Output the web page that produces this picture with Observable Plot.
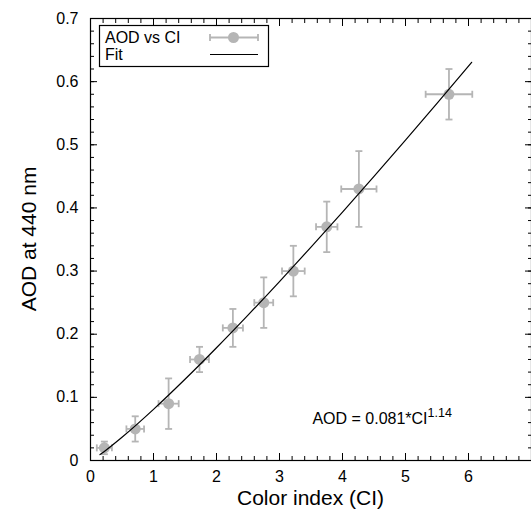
<!DOCTYPE html>
<html><head><meta charset="utf-8">
<script src="https://cdn.jsdelivr.net/npm/d3@7"></script>
<script src="https://cdn.jsdelivr.net/npm/@observablehq/plot@0.6"></script>
<style>body{margin:0;background:#fff} #chart svg{font-family:"Liberation Sans",Arial,Helvetica,sans-serif;overflow:visible}</style>
</head><body><div id="chart"></div>
<script>
// Observations (colour index vs AOD at 440 nm) with error bars
const ci     = [0.22, 0.71, 1.24, 1.73, 2.26, 2.75, 3.22, 3.75, 4.26, 5.69];
const aod    = [0.02, 0.05, 0.09, 0.16, 0.21, 0.25, 0.30, 0.37, 0.43, 0.58];
const ciErr  = [0.12, 0.14, 0.16, 0.15, 0.16, 0.15, 0.18, 0.17, 0.28, 0.37];
const aodErr = [0.01, 0.02, 0.04, 0.02, 0.03, 0.04, 0.04, 0.04, 0.06, 0.04];
// Fit curve
const fitCI  = [0.15, 0.25, 0.5, 1, 1.5, 2, 2.5, 3, 3.5, 4, 4.5, 5, 5.5, 6.05];
const fitAOD = [0.0093, 0.0167, 0.0368, 0.081, 0.1286, 0.1785, 0.2302, 0.2834, 0.3379, 0.3934, 0.4500, 0.5073, 0.5655, 0.6306];
// Axes
const xTicks = [0, 1, 2, 3, 4, 5, 6];
const yTicks = [0, 0.1, 0.2, 0.3, 0.4, 0.5, 0.6, 0.7];
const xDomain = [0, 7];
const yDomain = [0, 0.7];
const xLabel = "Color index (CI)";
const yLabel = "AOD at 440 nm";
const legendLabels = ["AOD vs CI", "Fit"];

const pts = ci.map((c, i) => ({x: c, y: aod[i], ex: ciErr[i], ey: aodErr[i]}));
const fit = fitCI.map((c, i) => ({x: c, y: fitAOD[i]}));

const hCap = {draw(ctx, size){const r = Math.sqrt(size/Math.PI); ctx.moveTo(-r,0); ctx.lineTo(r,0);}};
const vCap = {draw(ctx, size){const r = Math.sqrt(size/Math.PI); ctx.moveTo(0,-r); ctx.lineTo(0,r);}};
const gray = "#b5b5b5";
const minorX = d3.range(0, 7.001, 0.2);
const minorY = d3.range(0, 0.7001, 0.02);

const plot = Plot.plot({
  width: 531, height: 512,
  marginLeft: 90, marginRight: 0, marginTop: 18, marginBottom: 52,
  style: {fontSize: "16px", fontFamily: "Liberation Sans, Arial, sans-serif", color: "#000", background: "#fff"},
  x: {domain: xDomain, label: null},
  y: {domain: yDomain, label: null},
  marks: [
    // minor ticks
    Plot.axisX({ticks: minorX, tickSize: -4, text: null, anchor: "bottom"}),
    Plot.axisX({ticks: minorX, tickSize: -4, text: null, anchor: "top"}),
    Plot.axisY({ticks: minorY, tickSize: -4, text: null, anchor: "left"}),
    Plot.axisY({ticks: minorY, tickSize: -4, text: null, anchor: "right"}),
    // major ticks
    Plot.axisX({ticks: xTicks.concat([7]), tickSize: -7, text: null, anchor: "bottom"}),
    Plot.axisX({ticks: xTicks.concat([7]), tickSize: -7, text: null, anchor: "top"}),
    Plot.axisY({ticks: yTicks, tickSize: -7, text: null, anchor: "left"}),
    Plot.axisY({ticks: yTicks, tickSize: -7, text: null, anchor: "right"}),
    // labels
    Plot.axisX({ticks: xTicks, tickSize: 0, tickPadding: 10, anchor: "bottom", tickFormat: d => String(d), label: null}),
    Plot.axisY({ticks: yTicks, tickSize: 0, tickPadding: 12, anchor: "left", tickFormat: d => String(+d.toFixed(1)), label: null}),
    Plot.frame({stroke: "#000", strokeWidth: 1.2}),
    // error bars
    Plot.link(pts, {x1: d => d.x - d.ex, x2: d => d.x + d.ex, y1: "y", y2: "y", stroke: gray, strokeWidth: 1.8}),
    Plot.link(pts, {x1: "x", x2: "x", y1: d => d.y - d.ey, y2: d => d.y + d.ey, stroke: gray, strokeWidth: 1.8}),
    Plot.dot(pts, {x: "x", y: d => d.y + d.ey, symbol: hCap, r: 3.5, stroke: gray, strokeWidth: 1.8}),
    Plot.dot(pts, {x: "x", y: d => d.y - d.ey, symbol: hCap, r: 3.5, stroke: gray, strokeWidth: 1.8}),
    Plot.dot(pts, {x: d => d.x + d.ex, y: "y", symbol: vCap, r: 3.5, stroke: gray, strokeWidth: 1.8}),
    Plot.dot(pts, {x: d => d.x - d.ex, y: "y", symbol: vCap, r: 3.5, stroke: gray, strokeWidth: 1.8}),
    Plot.dot(pts, {x: "x", y: "y", r: 5.5, fill: gray, stroke: "none"}),
    // fit
    Plot.line(fit, {x: "x", y: "y", stroke: "#000", strokeWidth: 1.2, curve: "monotone-x"})
  ]
});

const svg = d3.select(plot);
// axis titles
svg.append("text").attr("x", 310.5).attr("y", 505).attr("text-anchor", "middle")
  .attr("font-size", 21).attr("fill", "#000").text(xLabel);
svg.append("text").attr("transform", "translate(36,239) rotate(-90)").attr("text-anchor", "middle")
  .attr("font-size", 21).attr("fill", "#000").text(yLabel);

// annotation
const sx = plot.scale("x"), sy = plot.scale("y");
const ann = svg.append("text").attr("x", sx.apply(3.53)).attr("y", sy.apply(0.057))
  .attr("text-anchor", "start").attr("font-size", 16).attr("fill", "#000");
ann.append("tspan").text("AOD = 0.081*CI");
ann.append("tspan").attr("dy", -7).attr("font-size", 12.5).text("1.14");

// legend
const lg = svg.append("g").attr("text-anchor", "start");
lg.append("rect").attr("x", 99.5).attr("y", 25.5).attr("width", 169).attr("height", 41)
  .attr("fill", "#fff").attr("stroke", "#000").attr("stroke-width", 1.2);
lg.append("text").attr("x", 105).attr("y", 43).attr("font-size", 16).attr("fill", "#000").text(legendLabels[0]);
lg.append("text").attr("x", 105).attr("y", 60).attr("font-size", 16).attr("fill", "#000").text(legendLabels[1]);
lg.append("line").attr("x1", 210).attr("x2", 258).attr("y1", 37.5).attr("y2", 37.5).attr("stroke", gray).attr("stroke-width", 1.8);
lg.append("line").attr("x1", 210).attr("x2", 210).attr("y1", 34).attr("y2", 41).attr("stroke", gray).attr("stroke-width", 1.8);
lg.append("line").attr("x1", 258).attr("x2", 258).attr("y1", 34).attr("y2", 41).attr("stroke", gray).attr("stroke-width", 1.8);
lg.append("circle").attr("cx", 233.5).attr("cy", 37.5).attr("r", 5.5).attr("fill", gray);
lg.append("line").attr("x1", 210).attr("x2", 258).attr("y1", 54.5).attr("y2", 54.5).attr("stroke", "#000").attr("stroke-width", 1.2);

document.getElementById("chart").appendChild(plot);
</script>
</body></html>
